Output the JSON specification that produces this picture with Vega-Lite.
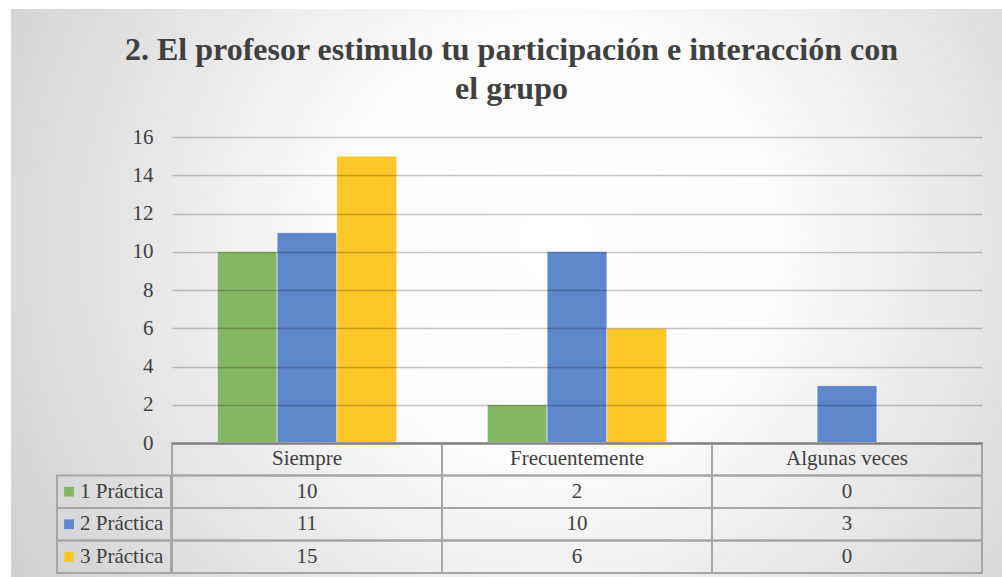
{
  "$schema": "https://vega.github.io/schema/vega-lite/v6.json",
  "width": 991,
  "height": 568,
  "autosize": {"type": "none"},
  "padding": {"left": 11, "top": 9, "right": 0, "bottom": 0},
  "background": "#ffffff",
  "title": {
    "text": ["2. El profesor estimulo tu participación e interacción con", "el grupo"],
    "font": "Liberation Serif",
    "fontSize": 32,
    "fontWeight": "bold",
    "color": "#404040",
    "anchor": "middle",
    "frame": "group",
    "offset": -97,
    "lineHeight": 39,
    "dx": 5
  },
  "data": {
    "values": [
      {"categoria": "Siempre", "serie": "1 Práctica", "valor": 10},
      {"categoria": "Siempre", "serie": "2 Práctica", "valor": 11},
      {"categoria": "Siempre", "serie": "3 Práctica", "valor": 15},
      {"categoria": "Frecuentemente", "serie": "1 Práctica", "valor": 2},
      {"categoria": "Frecuentemente", "serie": "2 Práctica", "valor": 10},
      {"categoria": "Frecuentemente", "serie": "3 Práctica", "valor": 6},
      {"categoria": "Algunas veces", "serie": "1 Práctica", "valor": 0},
      {"categoria": "Algunas veces", "serie": "2 Práctica", "valor": 3},
      {"categoria": "Algunas veces", "serie": "3 Práctica", "valor": 0}
    ]
  },
  "resolve": {"scale": {"x": "independent", "y": "independent"}},
  "layer": [
    {
      "mark": {"type": "bar", "stroke": "#ffffff", "strokeWidth": 1, "strokeOpacity": 0.5},
      "encoding": {
        "x": {
          "field": "categoria", "type": "nominal",
          "scale": {"domain": ["Siempre", "Frecuentemente", "Algunas veces"], "range": [161, 971], "paddingInner": 0, "paddingOuter": 0},
          "axis": {"labels": false, "ticks": false, "title": null, "domain": true, "domainColor": "#595959", "domainWidth": 2, "offset": -134, "grid": false}
        },
        "xOffset": {
          "field": "serie", "type": "nominal",
          "scale": {"domain": ["1 Práctica", "2 Práctica", "3 Práctica"], "paddingInner": 0, "paddingOuter": 0.76}
        },
        "y": {
          "field": "valor", "type": "quantitative",
          "scale": {"domain": [0, 16], "range": [434, 128], "nice": false},
          "axis": {
            "values": [0, 2, 4, 6, 8, 10, 12, 14, 16],
            "title": null, "grid": true, "gridColor": "#000000", "gridOpacity": 0.22, "gridWidth": 1.3,
            "domain": false, "ticks": false, "tickSize": 0,
            "labelFont": "Liberation Serif", "labelFontSize": 21, "labelColor": "#404040",
            "labelPadding": 19, "offset": -161, "zindex": 1
          }
        },
        "color": {
          "field": "serie", "type": "nominal",
          "scale": {"domain": ["1 Práctica", "2 Práctica", "3 Práctica"], "range": ["#84b762", "#5f87cc", "#ffc627"]},
          "legend": null
        }
      }
    },
    {
      "mark": {"type": "rect", "filled": false, "stroke": "#a6a6a6", "strokeWidth": 2},
      "encoding": {
        "x": {"field": "categoria", "type": "nominal", "scale": {"domain": ["Siempre", "Frecuentemente", "Algunas veces"], "range": [161, 971], "paddingInner": 0, "paddingOuter": 0}, "axis": null},
        "y": {"field": "serie", "type": "nominal", "scale": {"domain": ["hdr", "1 Práctica", "2 Práctica", "3 Práctica"], "range": [434, 564], "paddingInner": 0, "paddingOuter": 0}, "axis": null}
      }
    },
    {
      "transform": [{"filter": "datum.serie === '1 Práctica'"}],
      "mark": {"type": "rect", "filled": false, "stroke": "#a6a6a6", "strokeWidth": 2},
      "encoding": {
        "x": {"field": "categoria", "type": "nominal", "scale": {"domain": ["Siempre", "Frecuentemente", "Algunas veces"], "range": [161, 971], "paddingInner": 0, "paddingOuter": 0}, "axis": null},
        "y": {"datum": "hdr", "type": "nominal", "scale": {"domain": ["hdr", "1 Práctica", "2 Práctica", "3 Práctica"], "range": [434, 564], "paddingInner": 0, "paddingOuter": 0}, "axis": null}
      }
    },
    {
      "transform": [{"filter": "datum.serie === '1 Práctica'"}],
      "mark": {"type": "text", "font": "Liberation Serif", "fontSize": 21, "color": "#404040", "align": "center", "baseline": "middle"},
      "encoding": {
        "x": {"field": "categoria", "type": "nominal", "scale": {"domain": ["Siempre", "Frecuentemente", "Algunas veces"], "range": [161, 971], "paddingInner": 0, "paddingOuter": 0}, "axis": null},
        "y": {"datum": "hdr", "type": "nominal", "scale": {"domain": ["hdr", "1 Práctica", "2 Práctica", "3 Práctica"], "range": [434, 564], "paddingInner": 0, "paddingOuter": 0}, "axis": null},
        "text": {"field": "categoria"}
      }
    },
    {
      "mark": {"type": "text", "font": "Liberation Serif", "fontSize": 21, "color": "#404040", "align": "center", "baseline": "middle"},
      "encoding": {
        "x": {"field": "categoria", "type": "nominal", "scale": {"domain": ["Siempre", "Frecuentemente", "Algunas veces"], "range": [161, 971], "paddingInner": 0, "paddingOuter": 0}, "axis": null},
        "y": {"field": "serie", "type": "nominal", "scale": {"domain": ["hdr", "1 Práctica", "2 Práctica", "3 Práctica"], "range": [434, 564], "paddingInner": 0, "paddingOuter": 0}, "axis": null},
        "text": {"field": "valor"}
      }
    },
    {
      "transform": [{"filter": "datum.categoria === 'Siempre'"}],
      "mark": {"type": "rect", "filled": false, "stroke": "#a6a6a6", "strokeWidth": 2},
      "encoding": {
        "x": {"datum": "lbl", "type": "nominal", "scale": {"domain": ["lbl"], "range": [46, 160], "paddingInner": 0, "paddingOuter": 0}, "axis": null},
        "y": {"field": "serie", "type": "nominal", "scale": {"domain": ["hdr", "1 Práctica", "2 Práctica", "3 Práctica"], "range": [434, 564], "paddingInner": 0, "paddingOuter": 0}, "axis": null}
      }
    },
    {
      "transform": [{"filter": "datum.categoria === 'Siempre'"}],
      "mark": {"type": "point", "shape": "square", "filled": true, "size": 95, "opacity": 1, "xOffset": -45},
      "encoding": {
        "x": {"datum": "lbl", "type": "nominal", "scale": {"domain": ["lbl"], "range": [46, 160], "paddingInner": 0, "paddingOuter": 0}, "axis": null},
        "y": {"field": "serie", "type": "nominal", "scale": {"domain": ["hdr", "1 Práctica", "2 Práctica", "3 Práctica"], "range": [434, 564], "paddingInner": 0, "paddingOuter": 0}, "axis": null},
        "color": {"field": "serie", "type": "nominal", "legend": null}
      }
    },
    {
      "transform": [{"filter": "datum.categoria === 'Siempre'"}],
      "mark": {"type": "text", "font": "Liberation Serif", "fontSize": 21, "color": "#404040", "align": "left", "baseline": "middle", "dx": -34},
      "encoding": {
        "x": {"datum": "lbl", "type": "nominal", "scale": {"domain": ["lbl"], "range": [46, 160], "paddingInner": 0, "paddingOuter": 0}, "axis": null},
        "y": {"field": "serie", "type": "nominal", "scale": {"domain": ["hdr", "1 Práctica", "2 Práctica", "3 Práctica"], "range": [434, 564], "paddingInner": 0, "paddingOuter": 0}, "axis": null},
        "text": {"field": "serie"}
      }
    }
  ],
  "config": {
    "view": {
      "stroke": null,
      "fill": {
        "gradient": "radial",
        "x1": 0.55, "y1": 0.45, "r1": 0,
        "x2": 0.55, "y2": 0.45, "r2": 0.75,
        "stops": [
          {"offset": 0, "color": "#ffffff"},
          {"offset": 0.3, "color": "#fbfbfb"},
          {"offset": 1, "color": "#c4c4c4"}
        ]
      }
    }
  }
}
